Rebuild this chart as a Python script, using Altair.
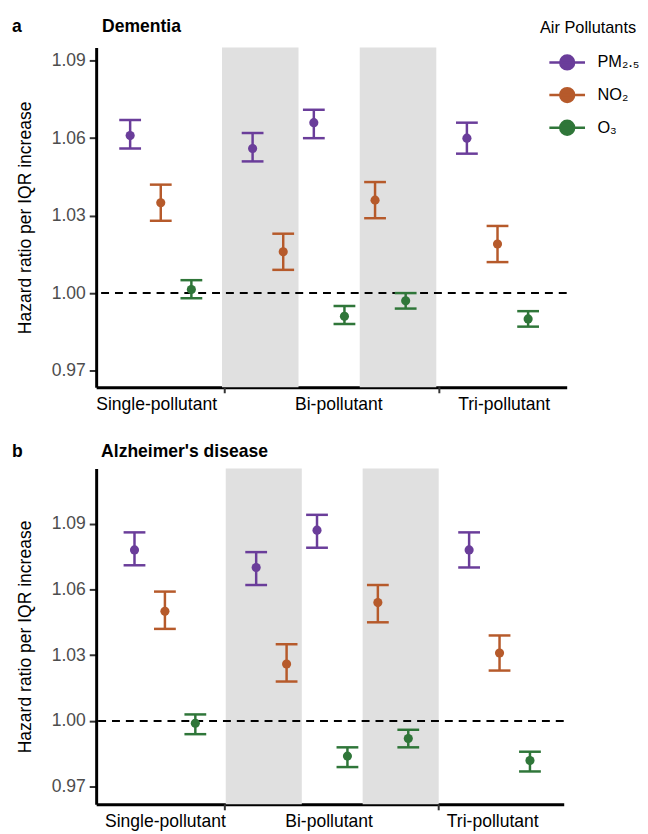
import altair as alt
import pandas as pd

# ---------------- data ----------------
positions = [0, 1, 2, 4, 5, 6, 7, 8, 9, 11, 12, 13]
pollutants = ["PM₂.₅", "NO₂", "O₃", "PM₂.₅", "NO₂", "PM₂.₅", "O₃", "NO₂", "O₃", "PM₂.₅", "NO₂", "O₃"]

hr_a = [1.061, 1.035, 1.0014, 1.056, 1.016, 1.066, 0.991, 1.036, 0.997, 1.060, 1.019, 0.990]
lo_a = [1.056, 1.028, 0.998, 1.051, 1.009, 1.060, 0.988, 1.029, 0.994, 1.054, 1.012, 0.987]
hi_a = [1.067, 1.042, 1.005, 1.062, 1.023, 1.071, 0.995, 1.043, 1.000, 1.066, 1.026, 0.993]

hr_b = [1.078, 1.050, 0.999, 1.070, 1.026, 1.087, 0.984, 1.054, 0.992, 1.078, 1.031, 0.982]
lo_b = [1.071, 1.042, 0.994, 1.062, 1.018, 1.079, 0.979, 1.045, 0.988, 1.070, 1.023, 0.977]
hi_b = [1.086, 1.059, 1.003, 1.077, 1.035, 1.094, 0.988, 1.062, 0.996, 1.086, 1.039, 0.986]

pollutant_order = ["PM₂.₅", "NO₂", "O₃"]
pollutant_colors = ["#6a3d9a", "#b65a2b", "#2f7639"]

band_start = [3.0, 7.5]
band_end = [5.5, 10.0]
group_breaks = [3.0, 10.0]
group_tick_pos_a = [3.09, 10.1]
group_tick_pos_b = [2.97, 10.0]
group_labels = ["Single-pollutant", "Bi-pollutant", "Tri-pollutant"]
label_pos_a = [0.85, 6.8, 12.2]
label_pos_b = [1.0, 6.38, 11.76]
y_ticks = [0.97, 1.00, 1.03, 1.06, 1.09]
reference_value = [1.0]
panel_titles = ["Dementia", "Alzheimer's disease"]
panel_letters = ["a", "b"]

FONT = "Liberation Sans"
FS = 17.7
LFS = 16.5

# line (36 px) with a dot, drawn in a 20 px symbol box
legend_path = ("M-1.8,0H1.8M-0.7,0A0.7,0.7,0,1,0,0.7,0"
               "A0.7,0.7,0,1,0,-0.7,0Z")

color_scale = alt.Scale(domain=pollutant_order, range=pollutant_colors)
legend = alt.Legend(
    title="Air Pollutants", orient="none", legendX=448, legendY=-28,
    symbolType=legend_path, symbolSize=400, symbolStrokeWidth=2.5,
    symbolOpacity=1, symbolOffset=16,
    labelFontSize=LFS, titleFontSize=LFS, titleFontWeight="normal",
    titleColor="black", labelColor="black", labelFont=FONT, titleFont=FONT,
    labelOffset=19, rowPadding=8, titlePadding=15,
)
color_enc = alt.Color("pollutant:N", scale=color_scale, legend=legend,
                      sort=pollutant_order)

x_label_expr = (f"datum.value < {group_breaks[0]} ? '{group_labels[0]}' : "
                f"datum.value < {group_breaks[1]} ? '{group_labels[1]}' : "
                f"'{group_labels[2]}'")


def panel(hr, lo, hi, label_pos, tick_pos, xdom, ydom, width, height, title,
          letter, title_dx, text_y):
    df = pd.DataFrame({"pos": positions, "pollutant": pollutants,
                       "hr": hr, "lo": lo, "hi": hi})
    xsc = alt.Scale(domain=xdom, nice=False, zero=False)
    ysc = alt.Scale(domain=ydom, nice=False, zero=False)
    x_enc = alt.X("pos:Q", scale=xsc, title=None,
                  axis=alt.Axis(values=label_pos, labelExpr=x_label_expr,
                                ticks=False, labelFlush=False, labelColor="black",
                                labelPadding=8, labelFontSize=FS, labelFont=FONT,
                                domainColor="black", domainWidth=3))

    bands = alt.Chart(pd.DataFrame({"start": band_start, "end": band_end})).mark_rect(
        color="#e0e0e0").encode(x=alt.X("start:Q", scale=xsc), x2="end:Q")

    ref = alt.Chart(pd.DataFrame({"y": reference_value})).mark_rule(
        strokeDash=[8, 6], strokeWidth=2, color="black").encode(
        y=alt.Y("y:Q", scale=ysc))

    ticks = alt.Chart(pd.DataFrame({"t": tick_pos})).mark_rule(
        color="#333333", strokeWidth=2).encode(
        x=alt.X("t:Q", scale=xsc), y=alt.value(height), y2=alt.value(height + 6))

    base = alt.Chart(df)
    bars = base.mark_rule(strokeWidth=2.5).encode(
        x=x_enc,
        y=alt.Y("lo:Q", scale=ysc,
                axis=alt.Axis(values=y_ticks, format=".2f",
                              title="Hazard ratio per IQR increase",
                              titleFontSize=FS, titleFontWeight="normal",
                              titleColor="black", titleFont=FONT, titlePadding=17,
                              labelFontSize=FS, labelFont=FONT, labelColor="#4d4d4d",
                              tickSize=7, tickWidth=2, tickColor="#333333",
                              labelPadding=4, domainColor="black", domainWidth=3)),
        y2="hi:Q", color=color_enc)
    cap_lo = base.mark_tick(orient="horizontal", size=22, thickness=2.5,
                            opacity=1).encode(x="pos:Q", y="lo:Q", color=color_enc)
    cap_hi = base.mark_tick(orient="horizontal", size=22, thickness=2.5,
                            opacity=1).encode(x="pos:Q", y="hi:Q", color=color_enc)
    pts = base.mark_point(filled=True, size=85, opacity=1).encode(
        x="pos:Q", y="hr:Q", color=color_enc)

    letter_mark = alt.Chart(pd.DataFrame({"letter": [letter]})).mark_text(
        align="left", baseline="alphabetic", fontSize=FS, fontWeight="bold",
        font=FONT, color="black").encode(
        text="letter:N", x=alt.value(-85), y=alt.value(text_y))
    title_mark = alt.Chart(pd.DataFrame({"title": [title]})).mark_text(
        align="left", baseline="alphabetic", fontSize=FS, fontWeight="bold",
        font=FONT, color="black").encode(
        text="title:N", x=alt.value(title_dx), y=alt.value(text_y))

    return alt.layer(bands, ref, bars, cap_lo, cap_hi, pts, ticks,
                     letter_mark, title_mark).properties(width=width, height=height)


panel_a = panel(hr_a, lo_a, hi_a, label_pos_a, group_tick_pos_a, [-1.11, 14.26],
                [0.9635, 1.0951], 475, 343, panel_titles[0], panel_letters[0], 6, -16)
panel_b = panel(hr_b, lo_b, hi_b, label_pos_b, group_tick_pos_b, [-1.26, 14.11],
                [0.962, 1.1151], 472, 339, panel_titles[1], panel_letters[1], 5, -12)

chart = alt.vconcat(panel_a, panel_b, spacing=30).properties(
    padding={"left": 4, "top": 6, "right": 0, "bottom": 0}
).configure_view(stroke=None).configure_axis(grid=False)

chart.save("out.html", embed_options={"renderer": "svg", "actions": False})
